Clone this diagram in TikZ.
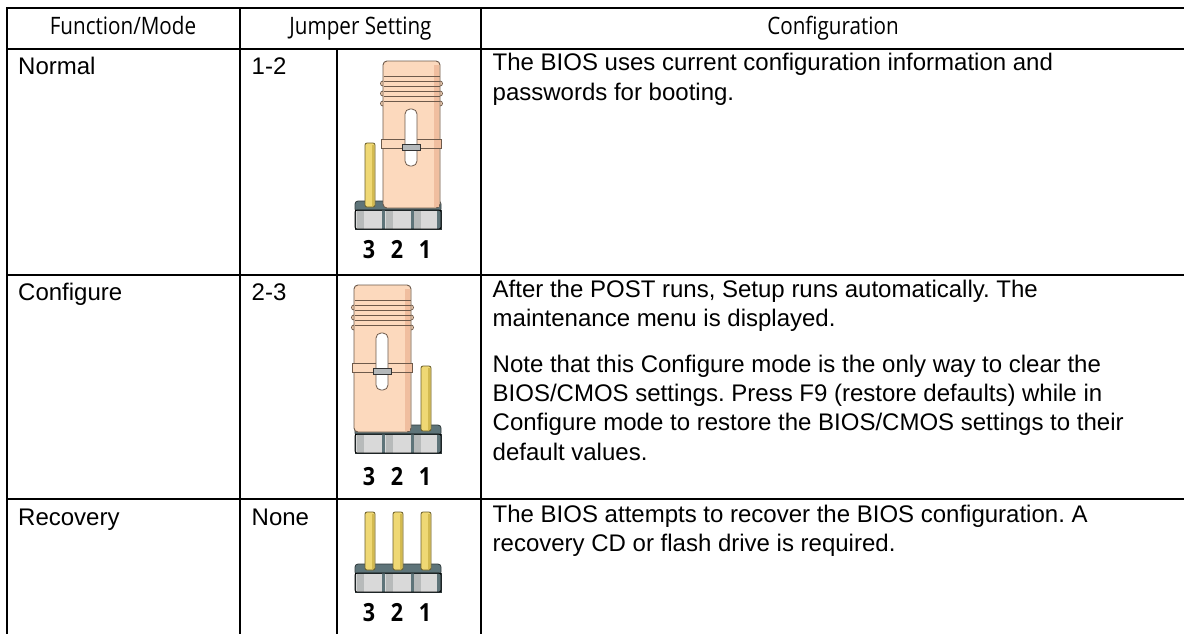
\documentclass[tikz,border=0pt]{standalone}
\usepackage{fontspec}
\setmainfont{Liberation Sans}
\newfontfamily\clearfont[FakeStretch=0.86]{Open Sans}
\frenchspacing
\definecolor{capfill}{HTML}{FCD9BD}
\definecolor{capshade}{HTML}{F0BE9F}
\definecolor{capline}{HTML}{6E5A4B}
\definecolor{pinfill}{HTML}{EFD874}
\definecolor{pinshade}{HTML}{D3BA50}
\definecolor{pinline}{HTML}{6A5E2A}
\definecolor{basetop}{HTML}{5E7479}
\definecolor{basefront}{HTML}{D9D9D9}
\definecolor{basemid}{HTML}{B7BABA}
\definecolor{baseline}{HTML}{2F3A3B}
\definecolor{latchfill}{HTML}{B4B8BA}
\tikzset{
	rule/.style={line width=2pt, line cap=rect},
	cell/.style={anchor=north west, inner sep=0pt, align=left, font=\fontsize{24}{29.5}\selectfont, execute at begin node=\strut},
	head/.style={anchor=base, inner sep=0pt, font=\clearfont\fontsize{24}{28}\selectfont},
	pinno/.style={anchor=base, inner sep=0pt, font=\clearfont\bfseries\fontsize{25}{28}\selectfont},
	% header of three pins: #1 = visible pins, #2 = pin height
	pics/pinrow/.style 2 args={code={
		\filldraw[basetop, draw=baseline, line width=0.8pt, rounded corners=3pt] (0,-17) rectangle (86,-28);
		\foreach \k in {#1} {
			\filldraw[pinfill, draw=pinline, line width=0.8pt, rounded corners=2pt] ({10+28*\k},-22) rectangle ({20+28*\k},-#2);
			\fill[pinshade] ({17+28*\k},-23) rectangle ({19.3+28*\k},{-#2+2});
		}
		\filldraw[basefront, draw=baseline, line width=0.8pt] (0,-19) rectangle (86,0);
		\foreach \k in {0,1,2} \fill[basemid] ({28.67*\k+2},-18.5) rectangle ({28.67*\k+9},-0.5);
		\foreach \s in {28.67,57.33} \fill[basetop] (\s-1.5,-19) rectangle (\s+1.5,0);
		\fill[basetop] (82,-18.5) rectangle (85.5,-0.5);
		\draw[baseline, line width=0.8pt, rounded corners=2pt] (0,-19) rectangle (86,0);
	}},
	% jumper cap
	pics/jcap/.style={code={
		\foreach \r in {107,117,127} {
			\filldraw[capfill, draw=capline, line width=0.8pt] (0,-\r) arc[start angle=270, end angle=90, radius=2.5];
			\filldraw[capfill, draw=capline, line width=0.8pt] (57,-\r) arc[start angle=-90, end angle=90, radius=2.5];
		}
		\filldraw[capfill, draw=capline, line width=0.9pt, rounded corners=4pt] (0,0) rectangle (57,-147);
		\fill[capshade] (51,-1) rectangle (56,-143);
		\foreach \r in {107,112,...,132} \draw[capline, line width=0.8pt] (0.5,-\r) -- (56.5,-\r);
		\filldraw[capfill, draw=capline, line width=0.8pt] (-1.5,-60) rectangle (58.5,-69);
		\fill[capshade] (51,-60.5) rectangle (58,-68.5);
		\filldraw[white, draw=capline, line width=0.8pt, rounded corners=5pt] (22,-42) rectangle (34,-99);
		\filldraw[latchfill, draw=gray!40!black, line width=0.6pt] (19,-58) rectangle (37,-64);
	}}
}
\begin{document}
\begin{tikzpicture}[x=1pt, y=-1pt]
	\useasboundingbox[fill=white] (0,0) rectangle (1184,633);
	% table rules
	\foreach \y in {8,49,274.5,499} \draw[rule] (6.5,\y) -- (1184,\y);
	\draw[rule] (6.5,8) -- (6.5,633);
	\draw[rule] (240,8) -- (240,633);
	\draw[rule] (337,49) -- (337,633);
	\draw[rule] (481,8) -- (481,633);
	% header
	\node[head] (hdmode) at (123,34) {Function/Mode};
	\node[head] (hdjumper) at (360.5,34) {Jumper Setting};
	\node[head] (hdconfig) at (833,34) {Configuration};
	% Normal
	\node[cell] (modenormal) at (18,53.4) {Normal};
	\node[cell] (setnormal) at (251.5,53.4) {1-2};
	\node[cell] (confnormal) at (492.5,53.4) {The BIOS uses current configuration information and\\passwords for booting.};
	\pic at (355,229) {pinrow={0}{86}};
	\pic at (383,208) {jcap};
	\foreach \n [count=\k from 0] in {3,2,1} \node[pinno] (lbnormal\n) at ({369+28*\k},258.5) {\n};
	% Configure
	\node[cell] (modeconfig) at (18,279.4) {Configure};
	\node[cell] (setconfig) at (251.5,279.4) {2-3};
	\node[cell] (confconfig) at (492.5,279.4) {After the POST runs, Setup runs automatically. The\\maintenance menu is displayed.\\[16pt]Note that this Configure mode is the only way to clear the\\BIOS/CMOS settings. Press F9 (restore defaults) while in\\Configure mode to restore the BIOS/CMOS settings to their\\default values.};
	\pic at (355,453) {pinrow={2}{87}};
	\pic at (354,432) {jcap};
	\foreach \n [count=\k from 0] in {3,2,1} \node[pinno] (lbconfig\n) at ({369+28*\k},485.5) {\n};
	% Recovery
	\node[cell] (moderecov) at (18,504.4) {Recovery};
	\node[cell] (setrecov) at (251.5,504.4) {None};
	\node[cell] (confrecov) at (492.5,504.4) {The BIOS attempts to recover the BIOS configuration. A\\recovery CD or flash drive is required.};
	\pic at (355,592) {pinrow={0,1,2}{80}};
	\foreach \n [count=\k from 0] in {3,2,1} \node[pinno] (lbrecov\n) at ({369+28*\k},621.5) {\n};
\end{tikzpicture}
\end{document}
